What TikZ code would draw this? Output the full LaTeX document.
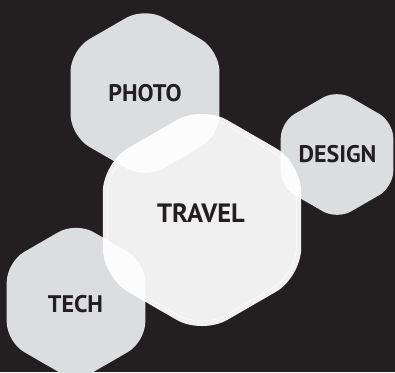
\documentclass[tikz,border=0pt]{standalone}
\usepackage{fontspec}
\setmainfont{PT Sans}
\definecolor{bgc}{HTML}{231F20}
\definecolor{hexc}{HTML}{DCDDDF}
\definecolor{txtc}{HTML}{231F20}
% hexagon path: center x, center y, R ; starts at middle of left edge
\newcommand\hexshape[3]{({#1-0.866*#3},{#2}) -- ({#1-0.866*#3},{#2-0.5*#3}) -- ({#1},{#2-#3}) -- ({#1+0.866*#3},{#2-0.5*#3}) -- ({#1+0.866*#3},{#2+0.5*#3}) -- ({#1},{#2+#3}) -- ({#1-0.866*#3},{#2+0.5*#3}) -- cycle}
\tikzset{
  smallhex/.style={fill=hexc},
  bighex/.style={fill=white, fill opacity=0.935},
  innerline/.style={draw=white, line width=0.6pt, draw opacity=0.8},
  label/.style={font=\bfseries\fontsize{24}{28}\selectfont, text=txtc, anchor=base, inner sep=0pt},
  biglabel/.style={label, font=\bfseries\fontsize{26.5}{30}\selectfont}
}
\begin{document}
\begin{tikzpicture}[x=1pt,y=-1pt]
\useasboundingbox (0,0) rectangle (395,372);
\clip (0,0) rectangle (395,372);
\fill[bgc] (0,0) rectangle (395,372);
% small hexagons
\path[smallhex, rounded corners=21.5pt] \hexshape{145}{93}{86};
\path[smallhex, rounded corners=16pt] \hexshape{337}{154.5}{65};
\path[smallhex, rounded corners=20pt] \hexshape{76}{302}{80};
% big translucent hexagon
\path[bighex, rounded corners=29pt] \hexshape{202}{220}{114.5};
\path[innerline, rounded corners=27pt] \hexshape{202}{220}{109};
% labels
\node[label] (photo) at (145,101.8) {PHOTO};
\node[label] (design) at (337.5,162.3) {DESIGN};
\node[label] (tech) at (75.5,312.4) {TECH};
\node[biglabel] (travel) at (201,222.7) {TRAVEL};
\end{tikzpicture}
\end{document}
